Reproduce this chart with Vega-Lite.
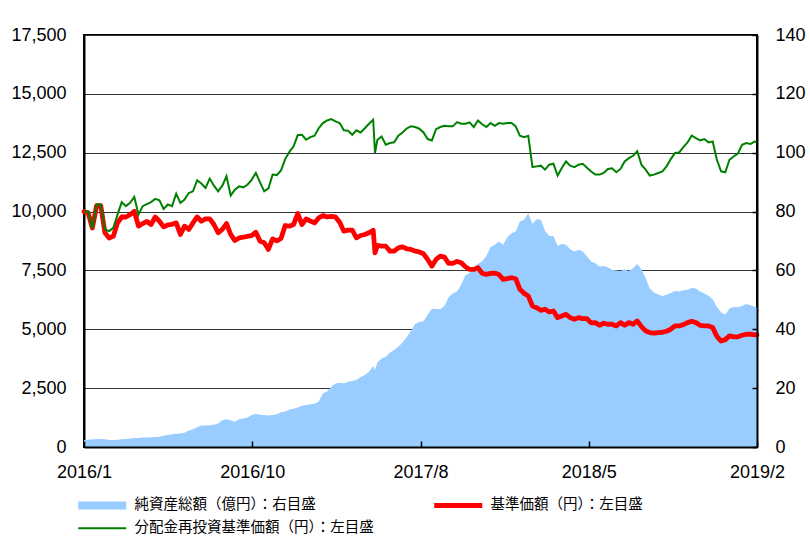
{
"$schema": "https://vega.github.io/schema/vega-lite/v6.json",
"width": 673, "height": 412,
"autosize": {"type": "none"},
"padding": {"left": 84, "top": 35, "right": 53, "bottom": 96},
"background": "white",
"config": {
  "view": {"stroke": "#000", "strokeWidth": 2},
  "font": "Liberation Sans",
  "axis": {"labelFont": "Liberation Sans", "labelFontSize": 18, "labelColor": "#000", "domainColor": "#000", "domainWidth": 2, "tickColor": "#000", "tickWidth": 1.5, "title": null},
  "legend": {"orient": "none", "legendX": -8, "legendY": 463, "direction": "horizontal", "columns": 2, "title": null,
    "labelFont": "Noto Sans CJK JP", "labelFontSize": 14.5, "labelColor": "#000", "labelLimit": 500, "symbolSize": 100, "labelOffset": 44,
    "columnPadding": 58, "rowPadding": 8, "symbolStrokeWidth": 0}
},
"data": {"values": [
{"date":"2016/01/04","nav":10000,"reinvest":10000,"aum":2.4},
{"date":"2016/01/11","nav":9940,"reinvest":10010,"aum":2.5},
{"date":"2016/01/18","nav":9300,"reinvest":9280,"aum":2.6},
{"date":"2016/01/25","nav":10250,"reinvest":10300,"aum":2.6},
{"date":"2016/02/01","nav":10250,"reinvest":10300,"aum":2.7},
{"date":"2016/02/08","nav":9100,"reinvest":9240,"aum":2.6},
{"date":"2016/02/15","nav":8880,"reinvest":9170,"aum":2.4},
{"date":"2016/02/22","nav":8950,"reinvest":9310,"aum":2.4},
{"date":"2016/02/29","nav":9520,"reinvest":9870,"aum":2.5},
{"date":"2016/03/07","nav":9770,"reinvest":10400,"aum":2.6},
{"date":"2016/03/14","nav":9770,"reinvest":10230,"aum":2.7},
{"date":"2016/03/21","nav":9870,"reinvest":10370,"aum":2.9},
{"date":"2016/03/28","nav":10010,"reinvest":10620,"aum":3.1},
{"date":"2016/04/04","nav":9380,"reinvest":9870,"aum":3.1},
{"date":"2016/04/11","nav":9490,"reinvest":10230,"aum":3.2},
{"date":"2016/04/18","nav":9580,"reinvest":10320,"aum":3.2},
{"date":"2016/04/25","nav":9450,"reinvest":10400,"aum":3.3},
{"date":"2016/05/02","nav":9770,"reinvest":10540,"aum":3.4},
{"date":"2016/05/09","nav":9590,"reinvest":10480,"aum":3.5},
{"date":"2016/05/16","nav":9350,"reinvest":10110,"aum":3.8},
{"date":"2016/05/23","nav":9430,"reinvest":10300,"aum":4.1},
{"date":"2016/05/30","nav":9460,"reinvest":10230,"aum":4.3},
{"date":"2016/06/06","nav":9520,"reinvest":10760,"aum":4.5},
{"date":"2016/06/13","nav":9030,"reinvest":10370,"aum":4.6},
{"date":"2016/06/20","nav":9380,"reinvest":10510,"aum":4.8},
{"date":"2016/06/27","nav":9240,"reinvest":10790,"aum":5.6},
{"date":"2016/07/04","nav":9520,"reinvest":10860,"aum":6.0},
{"date":"2016/07/11","nav":9770,"reinvest":11330,"aum":6.7},
{"date":"2016/07/18","nav":9590,"reinvest":11190,"aum":7.3},
{"date":"2016/07/25","nav":9690,"reinvest":11000,"aum":7.3},
{"date":"2016/08/01","nav":9690,"reinvest":11400,"aum":7.4},
{"date":"2016/08/08","nav":9450,"reinvest":11100,"aum":7.6},
{"date":"2016/08/15","nav":9100,"reinvest":10860,"aum":8.0},
{"date":"2016/08/22","nav":9240,"reinvest":11100,"aum":9.1},
{"date":"2016/08/29","nav":9490,"reinvest":11500,"aum":9.4},
{"date":"2016/09/05","nav":9030,"reinvest":10680,"aum":9.1},
{"date":"2016/09/12","nav":8770,"reinvest":10930,"aum":8.6},
{"date":"2016/09/19","nav":8880,"reinvest":11070,"aum":9.4},
{"date":"2016/09/26","nav":8910,"reinvest":11030,"aum":9.7},
{"date":"2016/10/03","nav":8950,"reinvest":11140,"aum":10.0},
{"date":"2016/10/10","nav":8980,"reinvest":11350,"aum":10.9},
{"date":"2016/10/17","nav":9125,"reinvest":11640,"aum":11.2},
{"date":"2016/10/24","nav":8745,"reinvest":11243,"aum":11.0},
{"date":"2016/10/31","nav":8673,"reinvest":10860,"aum":10.9},
{"date":"2016/11/07","nav":8390,"reinvest":10990,"aum":10.7},
{"date":"2016/11/14","nav":8840,"reinvest":11570,"aum":10.9},
{"date":"2016/11/21","nav":8757,"reinvest":11550,"aum":11.1},
{"date":"2016/11/28","nav":8856,"reinvest":11750,"aum":11.8},
{"date":"2016/12/05","nav":9407,"reinvest":12230,"aum":12.1},
{"date":"2016/12/12","nav":9380,"reinvest":12540,"aum":12.7},
{"date":"2016/12/19","nav":9450,"reinvest":12770,"aum":13.0},
{"date":"2016/12/26","nav":9915,"reinvest":13250,"aum":13.4},
{"date":"2017/01/02","nav":9450,"reinvest":13260,"aum":14.0},
{"date":"2017/01/09","nav":9690,"reinvest":13050,"aum":14.3},
{"date":"2017/01/16","nav":9600,"reinvest":13160,"aum":14.5},
{"date":"2017/01/23","nav":9520,"reinvest":13220,"aum":14.7},
{"date":"2017/01/30","nav":9730,"reinvest":13540,"aum":15.5},
{"date":"2017/02/06","nav":9830,"reinvest":13760,"aum":18.2},
{"date":"2017/02/13","nav":9774,"reinvest":13870,"aum":18.9},
{"date":"2017/02/20","nav":9800,"reinvest":13930,"aum":20.5},
{"date":"2017/02/27","nav":9774,"reinvest":13830,"aum":21.6},
{"date":"2017/03/06","nav":9548,"reinvest":13760,"aum":21.8},
{"date":"2017/03/13","nav":9167,"reinvest":13450,"aum":21.6},
{"date":"2017/03/20","nav":9210,"reinvest":13430,"aum":22.2},
{"date":"2017/03/27","nav":9210,"reinvest":13260,"aum":22.4},
{"date":"2017/04/03","nav":8885,"reinvest":13450,"aum":22.8},
{"date":"2017/04/10","nav":8983,"reinvest":13360,"aum":23.8},
{"date":"2017/04/17","nav":9025,"reinvest":13540,"aum":24.5},
{"date":"2017/04/24","nav":9100,"reinvest":13730,"aum":25.6},
{"date":"2017/05/01","nav":9210,"reinvest":13900,"aum":27.5},
{"date":"2017/05/04","nav":8250,"reinvest":12485,"aum":26.2},
{"date":"2017/05/08","nav":8560,"reinvest":13050,"aum":28.7},
{"date":"2017/05/15","nav":8530,"reinvest":13190,"aum":30.1},
{"date":"2017/05/22","nav":8530,"reinvest":12840,"aum":30.7},
{"date":"2017/05/29","nav":8320,"reinvest":12910,"aum":32.1},
{"date":"2017/06/05","nav":8320,"reinvest":12940,"aum":33.0},
{"date":"2017/06/12","nav":8460,"reinvest":13220,"aum":34.1},
{"date":"2017/06/19","nav":8500,"reinvest":13360,"aum":35.5},
{"date":"2017/06/26","nav":8420,"reinvest":13530,"aum":37.3},
{"date":"2017/07/03","nav":8390,"reinvest":13620,"aum":39.5},
{"date":"2017/07/10","nav":8320,"reinvest":13590,"aum":41.8},
{"date":"2017/07/17","nav":8285,"reinvest":13520,"aum":42.5},
{"date":"2017/07/24","nav":8206,"reinvest":13360,"aum":42.7},
{"date":"2017/07/31","nav":7966,"reinvest":13080,"aum":44.9},
{"date":"2017/08/07","nav":7684,"reinvest":13020,"aum":47.0},
{"date":"2017/08/14","nav":7966,"reinvest":13500,"aum":46.9},
{"date":"2017/08/21","nav":8107,"reinvest":13590,"aum":46.8},
{"date":"2017/08/28","nav":8065,"reinvest":13640,"aum":47.9},
{"date":"2017/09/04","nav":7797,"reinvest":13620,"aum":50.9},
{"date":"2017/09/11","nav":7797,"reinvest":13620,"aum":52.2},
{"date":"2017/09/18","nav":7882,"reinvest":13800,"aum":52.8},
{"date":"2017/09/25","nav":7825,"reinvest":13730,"aum":55.1},
{"date":"2017/10/02","nav":7656,"reinvest":13730,"aum":58.4},
{"date":"2017/10/09","nav":7543,"reinvest":13790,"aum":59.1},
{"date":"2017/10/16","nav":7543,"reinvest":13590,"aum":61.0},
{"date":"2017/10/23","nav":7613,"reinvest":13870,"aum":62.2},
{"date":"2017/10/30","nav":7374,"reinvest":13710,"aum":63.1},
{"date":"2017/11/06","nav":7330,"reinvest":13590,"aum":64.9},
{"date":"2017/11/13","nav":7374,"reinvest":13760,"aum":67.9},
{"date":"2017/11/20","nav":7388,"reinvest":13640,"aum":68.7},
{"date":"2017/11/27","nav":7330,"reinvest":13760,"aum":69.8},
{"date":"2017/12/04","nav":7120,"reinvest":13730,"aum":68.7},
{"date":"2017/12/11","nav":7148,"reinvest":13760,"aum":71.3},
{"date":"2017/12/18","nav":7190,"reinvest":13760,"aum":72.6},
{"date":"2017/12/25","nav":7148,"reinvest":13620,"aum":73.2},
{"date":"2018/01/01","nav":6696,"reinvest":13220,"aum":76.6},
{"date":"2018/01/08","nav":6526,"reinvest":13160,"aum":77.2},
{"date":"2018/01/15","nav":6413,"reinvest":13220,"aum":79.4},
{"date":"2018/01/22","nav":5990,"reinvest":11890,"aum":75.8},
{"date":"2018/01/29","nav":5918,"reinvest":11920,"aum":77.4},
{"date":"2018/02/05","nav":5805,"reinvest":11950,"aum":77.2},
{"date":"2018/02/12","nav":5850,"reinvest":11780,"aum":73.5},
{"date":"2018/02/19","nav":5735,"reinvest":11990,"aum":71.7},
{"date":"2018/02/26","nav":5777,"reinvest":12030,"aum":71.7},
{"date":"2018/03/05","nav":5495,"reinvest":11530,"aum":68.3},
{"date":"2018/03/12","nav":5565,"reinvest":11850,"aum":69.0},
{"date":"2018/03/19","nav":5636,"reinvest":12130,"aum":68.7},
{"date":"2018/03/26","nav":5495,"reinvest":11950,"aum":67.2},
{"date":"2018/04/02","nav":5424,"reinvest":11890,"aum":66.4},
{"date":"2018/04/09","nav":5495,"reinvest":11990,"aum":67.0},
{"date":"2018/04/16","nav":5452,"reinvest":12030,"aum":66.4},
{"date":"2018/04/23","nav":5450,"reinvest":11860,"aum":64.8},
{"date":"2018/04/30","nav":5270,"reinvest":11700,"aum":63.0},
{"date":"2018/05/07","nav":5284,"reinvest":11570,"aum":62.4},
{"date":"2018/05/14","nav":5171,"reinvest":11570,"aum":61.3},
{"date":"2018/05/21","nav":5256,"reinvest":11640,"aum":61.5},
{"date":"2018/05/28","nav":5213,"reinvest":11810,"aum":61.1},
{"date":"2018/06/04","nav":5213,"reinvest":11840,"aum":60.2},
{"date":"2018/06/11","nav":5143,"reinvest":11670,"aum":60.0},
{"date":"2018/06/18","nav":5284,"reinvest":11810,"aum":59.8},
{"date":"2018/06/25","nav":5171,"reinvest":12130,"aum":60.4},
{"date":"2018/07/02","nav":5284,"reinvest":12270,"aum":59.8},
{"date":"2018/07/09","nav":5213,"reinvest":12370,"aum":60.7},
{"date":"2018/07/16","nav":5355,"reinvest":12560,"aum":62.2},
{"date":"2018/07/23","nav":5114,"reinvest":11990,"aum":60.4},
{"date":"2018/07/30","nav":4931,"reinvest":11780,"aum":57.3},
{"date":"2018/08/06","nav":4860,"reinvest":11530,"aum":53.9},
{"date":"2018/08/13","nav":4832,"reinvest":11570,"aum":52.5},
{"date":"2018/08/20","nav":4860,"reinvest":11640,"aum":51.8},
{"date":"2018/08/27","nav":4874,"reinvest":11710,"aum":51.3},
{"date":"2018/09/03","nav":4917,"reinvest":11920,"aum":51.7},
{"date":"2018/09/10","nav":5002,"reinvest":12230,"aum":52.3},
{"date":"2018/09/17","nav":5143,"reinvest":12490,"aum":53.0},
{"date":"2018/09/24","nav":5143,"reinvest":12510,"aum":52.8},
{"date":"2018/10/01","nav":5199,"reinvest":12740,"aum":53.3},
{"date":"2018/10/08","nav":5284,"reinvest":12940,"aum":53.4},
{"date":"2018/10/15","nav":5340,"reinvest":13230,"aum":54.0},
{"date":"2018/10/22","nav":5284,"reinvest":13120,"aum":53.9},
{"date":"2018/10/29","nav":5171,"reinvest":13020,"aum":52.8},
{"date":"2018/11/05","nav":5143,"reinvest":13080,"aum":52.2},
{"date":"2018/11/12","nav":5143,"reinvest":12940,"aum":51.4},
{"date":"2018/11/19","nav":5072,"reinvest":12980,"aum":50.2},
{"date":"2018/11/26","nav":4700,"reinvest":12200,"aum":47.7},
{"date":"2018/12/03","nav":4500,"reinvest":11710,"aum":45.7},
{"date":"2018/12/10","nav":4560,"reinvest":11670,"aum":44.9},
{"date":"2018/12/17","nav":4719,"reinvest":12200,"aum":47.1},
{"date":"2018/12/24","nav":4677,"reinvest":12340,"aum":47.6},
{"date":"2018/12/31","nav":4677,"reinvest":12460,"aum":47.5},
{"date":"2019/01/07","nav":4747,"reinvest":12840,"aum":47.9},
{"date":"2019/01/14","nav":4790,"reinvest":12910,"aum":48.6},
{"date":"2019/01/21","nav":4790,"reinvest":12870,"aum":48.2},
{"date":"2019/01/28","nav":4761,"reinvest":12970,"aum":47.7},
{"date":"2019/02/01","nav":4760,"reinvest":12940,"aum":47.5}
]},
"layer": [
  {
    "mark": {"type": "area", "interpolate": "linear"},
    "encoding": {
      "x": {"field": "date", "type": "temporal",
        "scale": {"domain": [{"year": 2016, "month": 1, "date": 4}, {"year": 2019, "month": 2, "date": 1}], "nice": false},
        "axis": {"values": [{"year": 2016, "month": 1, "date": 4}, {"year": 2016, "month": 10, "date": 11}, {"year": 2017, "month": 7, "date": 19}, {"year": 2018, "month": 4, "date": 26}, {"year": 2019, "month": 2, "date": 1}],
          "labelExpr": "year(datum.value) == 2016 ? (month(datum.value) < 6 ? '2016/1' : '2016/10') : year(datum.value) == 2017 ? '2017/8' : year(datum.value) == 2018 ? '2018/5' : '2019/2'",
          "tickSize": -6, "labelPadding": 22, "grid": false, "domain": true, "zindex": 1, "labelOverlap": false, "labelFlush": false, "labelBound": false}},
      "y": {"field": "aum", "type": "quantitative", "scale": {"domain": [0, 140], "nice": false},
        "axis": {"orient": "right", "values": [0, 20, 40, 60, 80, 100, 120, 140], "tickSize": -5, "labelPadding": 23, "grid": false, "domain": true, "zindex": 1}},
      "color": {"datum": "純資産総額（億円）：右目盛", "type": "nominal",
        "scale": {"domain": ["純資産総額（億円）：右目盛", "基準価額（円）：左目盛", "分配金再投資基準価額（円）：左目盛"], "range": ["#99CCFF", "#FF0000", "#008000"]},
        "legend": {"encode": {"symbols": {"update": {
          "shape": {"signal": "datum.value === '純資産総額（億円）：右目盛' ? 'M-1,-0.8H8.6V0.8H-1Z' : datum.value === '基準価額（円）：左目盛' ? 'M-1,-0.5H8.6V0.5H-1Z' : 'M-1,-0.2H8.6V0.2H-1Z'"},
          "fill": {"scale": "color", "field": "value"},
          "stroke": {"value": "transparent"},
          "opacity": {"value": 1}}}}}}
    }
  },
  {
    "layer": [
      {
        "mark": {"type": "line", "strokeWidth": 4.8, "strokeJoin": "round", "strokeCap": "round"},
        "encoding": {
          "x": {"field": "date", "type": "temporal"},
          "y": {"field": "nav", "type": "quantitative", "scale": {"domain": [0, 17500], "nice": false},
            "axis": {"orient": "left", "values": [0, 2500, 5000, 7500, 10000, 12500, 15000, 17500], "format": ",.0f", "ticks": false, "tickSize": 0, "labelPadding": 18, "grid": true, "gridColor": "#333", "gridWidth": 1, "domain": true, "zindex": 0}},
          "color": {"datum": "基準価額（円）：左目盛", "type": "nominal"}
        }
      },
      {
        "mark": {"type": "line", "strokeWidth": 2},
        "encoding": {
          "x": {"field": "date", "type": "temporal"},
          "y": {"field": "reinvest", "type": "quantitative"},
          "color": {"datum": "分配金再投資基準価額（円）：左目盛", "type": "nominal"}
        }
      }
    ]
  }
],
"resolve": {"scale": {"y": "independent"}}
}
